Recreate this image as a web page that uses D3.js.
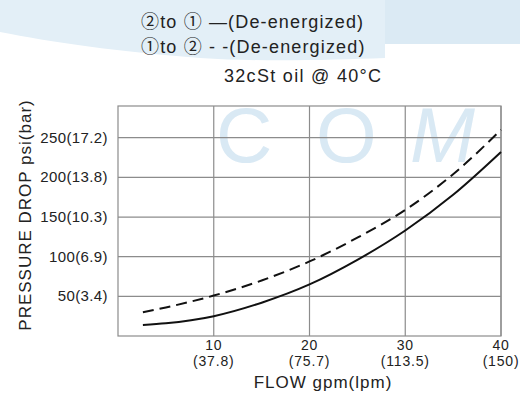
<!DOCTYPE html>
<html>
<head>
<meta charset="utf-8">
<script src="https://cdn.jsdelivr.net/npm/d3@7"></script>
<style>
  body { margin: 0; background: #fff; }
  text { font-family: "Liberation Sans", Arial, sans-serif; fill: #222; }
  .circ { font-family: "Noto Sans CJK JP", "DejaVu Sans", sans-serif; }
</style>
</head>
<body>
<script>
'use strict';

// flow in gpm, pressure drop in psi
let flowSolid = [2.6, 5, 10, 15, 20, 25, 30, 35, 40];
let psiSolid  = [14, 16, 25, 42, 65, 96, 133, 178, 232];
let flowDash  = [2.6, 5, 10, 15, 20, 25, 30, 35, 40];
let psiDash   = [30, 36, 51, 70, 94, 124, 159, 204, 260];

let xTicks = [10, 20, 30, 40];
let xTickLpm = ["(37.8)", "(75.7)", "(113.5)", "(150)"];
let yTicks = [50, 100, 150, 200, 250];
let yTickBar = ["(3.4)", "(6.9)", "(10.3)", "(13.8)", "(17.2)"];

let svg = d3.select('body')
  .append('svg')
  .attr('width', 520)
  .attr('height', 402);

// light blue watermark behind everything
let wm = svg.append('g');
wm.append('path')
  .attr('d', 'M0,0 H520 V44 H385 V58 C330,60 260,62 200,58 C120,52 50,42 0,32 Z')
  .attr('fill', '#e3eff7');
wm.append('rect')
  .attr('x', 385).attr('y', 0).attr('width', 135).attr('height', 44)
  .attr('fill', '#dbeaf4');
[["C", 216, "normal"], ["O", 316, "normal"], ["M", 410, "italic"]].forEach(l => {
  wm.append('text')
    .attr('x', l[1])
    .attr('y', 162)
    .style('font-size', '78px')
    .style('font-style', l[2])
    .style('fill', '#d9e9f4')
    .text(l[0]);
});

let x = d3.scaleLinear().domain([0, 40]).range([118, 501]);
let y = d3.scaleLinear().domain([0, 290]).range([336, 106]);

// grid lines
svg.append('g')
  .selectAll('line')
  .data(xTicks)
  .enter()
  .append('line')
    .attr('x1', d => x(d)).attr('x2', d => x(d))
    .attr('y1', y(0)).attr('y2', y(290))
    .attr('stroke', '#8c8c8c')
    .attr('stroke-width', 1.2);

svg.append('g')
  .selectAll('line')
  .data(yTicks)
  .enter()
  .append('line')
    .attr('x1', x(0)).attr('x2', x(40))
    .attr('y1', d => y(d)).attr('y2', d => y(d))
    .attr('stroke', '#8c8c8c')
    .attr('stroke-width', 1.2);

// frame
svg.append('rect')
  .attr('x', x(0)).attr('y', y(290))
  .attr('width', x(40) - x(0)).attr('height', y(0) - y(290))
  .attr('fill', 'none')
  .attr('stroke', '#8c8c8c')
  .attr('stroke-width', 1.2);

// curves
let line = d3.line()
  .x(d => x(d[0]))
  .y(d => y(d[1]))
  .curve(d3.curveMonotoneX);

svg.append('path')
  .datum(d3.zip(flowSolid, psiSolid))
  .attr('fill', 'none')
  .attr('stroke', '#111')
  .attr('stroke-width', 2)
  .attr('d', line);

svg.append('path')
  .datum(d3.zip(flowDash, psiDash))
  .attr('fill', 'none')
  .attr('stroke', '#111')
  .attr('stroke-width', 2)
  .attr('stroke-dasharray', '11,6')
  .attr('d', line);

// y tick labels
svg.append('g')
  .selectAll('text')
  .data(yTicks)
  .enter()
  .append('text')
    .attr('x', 108)
    .attr('y', d => y(d) + 5)
    .attr('text-anchor', 'end')
    .style('font-size', '15px')
    .style('letter-spacing', '0.4px')
    .text((d, i) => d + yTickBar[i]);

// x tick labels, two rows
let xl = svg.append('g')
  .selectAll('text')
  .data(xTicks)
  .enter()
  .append('text')
    .attr('text-anchor', 'middle')
    .style('font-size', '14px')
    .style('letter-spacing', '0.8px');
xl.append('tspan')
  .attr('x', d => x(d))
  .attr('y', 350)
  .text(d => d);
xl.append('tspan')
  .attr('x', d => x(d))
  .attr('y', 366)
  .text((d, i) => xTickLpm[i]);

// axis titles
svg.append('text')
  .attr('x', 323)
  .attr('y', 388)
  .attr('text-anchor', 'middle')
  .style('font-size', '17px')
  .style('letter-spacing', '1px')
  .text('FLOW gpm(lpm)');

svg.append('text')
  .attr('transform', 'translate(31, 215)rotate(-90)')
  .attr('text-anchor', 'middle')
  .style('font-size', '17px')
  .style('letter-spacing', '1px')
  .text('PRESSURE DROP psi(bar)');

// legend and condition lines at the top
function legendLine(yPos, from, to, mark) {
  let t = svg.append('text')
    .attr('x', 141)
    .attr('y', yPos)
    .style('font-size', '18px')
    .style('letter-spacing', '1.15px');
  t.append('tspan').attr('class', 'circ').text(from);
  t.append('tspan').text('to ');
  t.append('tspan').attr('class', 'circ').text(to);
  t.append('tspan').text(' ' + mark + '(De-energized)');
}
legendLine(28, '\u2461', '\u2460', '\u2014');
legendLine(53, '\u2460', '\u2461', '- -');

svg.append('text')
  .attr('x', 224)
  .attr('y', 82)
  .style('font-size', '18px')
  .style('letter-spacing', '1.3px')
  .text('32cSt oil @ 40\u00b0C');
</script>
</body>
</html>
